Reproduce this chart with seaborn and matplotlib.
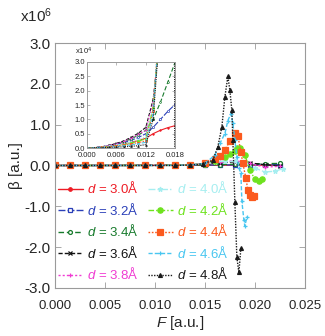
import numpy as np
import pandas as pd
import matplotlib
matplotlib.use("Agg")
import matplotlib.pyplot as plt
import seaborn as sns

# beta values are given in units of 1e4 (inset units); main panel uses 1e6
F_LOW = [0.0, 0.0015, 0.003, 0.0045, 0.006, 0.0075, 0.009, 0.0105, 0.012]
F_GRID = F_LOW + [0.0135, 0.015, 0.0165, 0.018, 0.0195, 0.021, 0.0225]

F_30 = F_GRID
B_30 = [0, .01, .03, .06, .10, .15, .20, .26, .34, .50, .62, .71, .78, .85, .90, .95]
F_32 = F_GRID
B_32 = [0, .01, .04, .08, .13, .19, .27, .37, .50, .72, 1.0, 1.28, 1.52, 1.7, 1.8, 1.85]
F_34 = F_GRID
B_34 = [0, .01, .04, .09, .15, .22, .32, .45, .62, 1.0, 1.6, 2.3, 3.0, 3.8, 4.5, 5.0]
F_36 = F_GRID
B_36 = [0, .01, .04, .09, .16, .25, .37, .52, .72, 1.7, 4.0, 7.0, 9.0, 6.0, 2.0, -1.0]
F_38 = F_GRID
B_38 = [0, .01, .04, .09, .15, .23, .34, .48, .62, 1.6, 4.2, 9.0, 12.0, 5.0, -4.0, -2.0]
F_40 = F_LOW + [0.0135, 0.015, 0.016, 0.017, 0.018, 0.019, 0.020, 0.021, 0.022, 0.0228]
B_40 = [0, .01, .03, .06, .10, .15, .21, .29, .40, 1.4, 4.5, 8, 11, 10, 5, -6, -16, -14, -8]
F_42 = F_LOW + [0.0135, 0.015, 0.016, 0.017, 0.0175, 0.018, 0.0182, 0.0185, 0.019,
                0.0195, 0.020, 0.0204, 0.0207]
B_42 = [0, .01, .02, .05, .08, .12, .17, .24, .32,
        1.4, 4.5, 12, 20, 28, 36, 42, 42, 26, -11, -34, -39, -34]
F_44 = F_LOW + [0.0135, 0.015, 0.016, 0.0165, 0.017, 0.0175, 0.018, 0.0183, 0.0186,
                0.0188, 0.0191, 0.0193, 0.0195, 0.0197, 0.0199]
B_44 = [0, .01, .02, .04, .07, .10, .14, .19, .25,
        1.3, 5, 15, 22, 38, 60, 79, 72, 34, 5, -31, -60, -72, -78, -74]
F_46 = F_LOW + [0.0135, 0.015, 0.016, 0.0165, 0.017, 0.0173, 0.0176, 0.0178, 0.018,
                0.0182, 0.0184, 0.0186, 0.0187, 0.0189, 0.019, 0.0192]
B_46 = [0, .01, .02, .03, .05, .08, .11, .15, .20,
        1.2, 5, 25, 54, 78, 110, 127, 103, 62, 20, -5, -19, -88, -133, -149, -125]
F_48 = F_LOW + [0.0135, 0.0148, 0.0158, 0.0163, 0.0167, 0.017, 0.0173, 0.0175, 0.0177,
                0.0178, 0.018, 0.0182, 0.0184, 0.0186]
B_48 = [0, .005, .01, .02, .03, .04, .06, .08, .12,
        1.0, 4, 13, 46, 95, 168, 218, 184, 135, 62, -90, -225, -262, -203]

D_LABELS = ["3.0", "3.2", "3.4", "3.6", "3.8", "4.0", "4.2", "4.4", "4.6", "4.8"]
F_ALL = [F_30, F_32, F_34, F_36, F_38, F_40, F_42, F_44, F_46, F_48]
B_ALL = [B_30, B_32, B_34, B_36, B_38, B_40, B_42, B_44, B_46, B_48]

COLORS = ["#ee1c25", "#2a3fb8", "#177a2c", "#111111", "#f03cd2",
          "#a6eef0", "#6ee21e", "#fb5a1e", "#48c6f0", "#1a1a1a"]
STYLES = [
    dict(ls="-", marker="o", mfc=None, ms=2.5),
    dict(ls=(0, (5, 1.5)), marker="s", mfc="white", ms=2.8),
    dict(ls=(0, (4, 2)), marker="o", mfc="white", ms=2.8),
    dict(ls=(0, (3, 1.5)), marker="x", mfc=None, ms=3),
    dict(ls=(0, (1.5, 1.5)), marker="+", mfc=None, ms=3.5),
    dict(ls=(0, (5, 1.5, 1, 1.5)), marker="*", mfc=None, ms=3.5),
    dict(ls=(0, (4, 1.5, 1, 1.5)), marker="o", mfc=None, ms=3.8),
    dict(ls=(0, (1.2, 1.2)), marker="s", mfc=None, ms=4),
    dict(ls=(0, (3, 1.5)), marker="+", mfc=None, ms=3.5),
    dict(ls=(0, (1, 1)), marker="^", mfc=None, ms=2.8),
]

sns.set_theme(style="ticks")
plt.rcParams["font.family"] = ["Liberation Sans", "DejaVu Sans"]
plt.rcParams["mathtext.fontset"] = "custom"
plt.rcParams["mathtext.it"] = "Liberation Sans:italic"
plt.rcParams["mathtext.rm"] = "Liberation Sans"

GRAY = "#9a9a9a"

fig = plt.figure(figsize=(3.25, 3.36), dpi=100)
ax = fig.add_axes([0.169, 0.143, 0.769, 0.729])
ins = fig.add_axes([0.268, 0.5595, 0.271, 0.256])

for i in range(len(D_LABELS)):
    st = STYLES[i]
    kw = dict(color=COLORS[i], linestyle=st["ls"], marker=st["marker"],
              markersize=st["ms"], linewidth=1.0, markeredgewidth=0.9,
              markeredgecolor=COLORS[i])
    if st["mfc"] is not None:
        kw["markerfacecolor"] = st["mfc"]
    df = pd.DataFrame({"F": F_ALL[i], "B": np.array(B_ALL[i]) / 100.0})
    sns.lineplot(data=df, x="F", y="B", ax=ax, sort=False, estimator=None,
                 label=r"$d$ = " + D_LABELS[i] + "Å", **kw)
    kw_in = dict(kw)
    kw_in["markersize"] = st["ms"] * 0.45
    kw_in["linewidth"] = 0.8
    kw_in["markeredgewidth"] = 0.5
    dfi = pd.DataFrame({"F": F_ALL[i], "B": B_ALL[i]})
    sns.lineplot(data=dfi, x="F", y="B", ax=ins, sort=False, estimator=None,
                 legend=False, **kw_in)

# main axes
ax.set_xlim(0, 0.025)
ax.set_ylim(-3.0, 3.0)
ax.set_xticks([0, 0.005, 0.01, 0.015, 0.02, 0.025])
ax.set_xticklabels(["0.000", "0.005", "0.010", "0.015", "0.020", "0.025"], fontsize=9.5)
ax.set_yticks([-3, -2, -1, 0, 1, 2, 3])
ax.set_yticklabels(["-3.0", "-2.0", "-1.0", "0.0", "1.0", "2.0", "3.0"], fontsize=11)
ax.tick_params(direction="in", length=4, width=0.6, color=GRAY, top=True, right=True, pad=3)
ax.tick_params(axis="x", pad=9)
for s in ax.spines.values():
    s.set_color(GRAY)
    s.set_linewidth(0.8)
ax.set_xlabel(r"$F$ [a.u.]", fontsize=11, labelpad=1)
ax.set_ylabel("β [a.u.]", fontsize=11, labelpad=1)
fig.text(0.062, 0.952, r"x10$^{6}$", fontsize=11, ha="left", va="center")

leg = ax.legend(loc="upper left", bbox_to_anchor=(0.012, 0.44), ncol=2, frameon=False,
                fontsize=9.5, handlelength=1.9, handletextpad=0.3, columnspacing=0.7,
                labelspacing=0.42, borderpad=0, borderaxespad=0)
for t, c in zip(leg.get_texts(), COLORS):
    t.set_color(c)

# inset
ins.set_xlim(0, 0.018)
ins.set_ylim(0, 3.0)
ins.set_xticks([0, 0.006, 0.012, 0.018])
ins.set_xticklabels(["0.000", "0.006", "0.012", "0.018"], fontsize=5.5)
ins.set_yticks([0, 0.5, 1.0, 1.5, 2.0, 2.5, 3.0])
ins.set_yticklabels(["0.0", "0.5", "1.0", "1.5", "2.0", "2.5", "3.0"], fontsize=5.5)
ins.tick_params(direction="in", length=2.5, width=0.5, color=GRAY, top=True, right=True, pad=1.5)
ins.tick_params(axis="x", pad=3)
for s in ins.spines.values():
    s.set_color(GRAY)
    s.set_linewidth(0.7)
ins.set_xlabel("")
ins.set_ylabel("")
fig.text(0.231, 0.847, r"x10$^{4}$", fontsize=5.5, ha="left", va="center")

fig.savefig("out.png", dpi=100)
